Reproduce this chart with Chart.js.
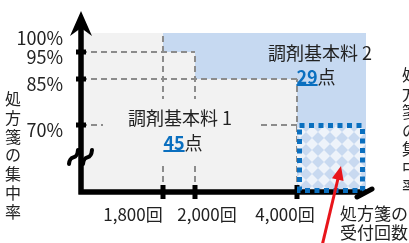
<!DOCTYPE html>
<html lang="ja">
<head>
<meta charset="utf-8">
<title>調剤基本料</title>
<script src="https://cdn.jsdelivr.net/npm/chart.js@4.4.1/dist/chart.umd.min.js"></script>
<style>
  html, body { margin: 0; padding: 0; background: #fff; }
  #wrap { width: 409px; height: 243px; position: relative; overflow: hidden; }
</style>
</head>
<body>
<div id="wrap"><canvas id="chart"></canvas></div>
<script>
// 受付回数(回)と集中率(%)のしきい値
const countThresholds = [1800, 2000, 4000];
const rateThresholds = [95, 85, 70];
const countLabels = ['1,800回', '2,000回', '4,000回'];
const rateTicks = [100, 95, 85, 70];
const countEnd = 5400;   // 図の右端
const rateTop = 100;
const feeNames = ['調剤基本料 1', '調剤基本料 2'];
const feePoints = [45, 29];
const xTitle = ['処方箋の', '受付回数'];
const yTitle = '処方箋の集中率';

const FONT = '"Noto Sans CJK JP", "Noto Sans", sans-serif';
const BLUE = '#0a6fbf';

// 模式図なので軸は区間ごとに伸縮させる
class SchematicScale extends Chart.LinearScale {
    static id = 'schematic';
    static defaults = {};
    decimalOf(value) {
        const k = this.options.knots;
        if (value <= k[0][0]) return k[0][1];
        for (let i = 1; i < k.length; i++) {
            if (value <= k[i][0]) {
                const [v0, d0] = k[i - 1], [v1, d1] = k[i];
                return d0 + (value - v0) / (v1 - v0) * (d1 - d0);
            }
        }
        return k[k.length - 1][1];
    }
    getPixelForValue(value) {
        return this.getPixelForDecimal(this.decimalOf(value));
    }
    getValueForPixel(pixel) {
        const d = this.getDecimalForPixel(pixel);
        const k = this.options.knots;
        for (let i = 1; i < k.length; i++) {
            if (d <= k[i][1]) {
                const [v0, d0] = k[i - 1], [v1, d1] = k[i];
                return v0 + (d - d0) / (d1 - d0) * (v1 - v0);
            }
        }
        return k[k.length - 1][0];
    }
}
Chart.register(SchematicScale);

// 市松模様 (新しく対象になる部分)
function makePattern() {
    const c = document.createElement('canvas');
    c.width = 12; c.height = 12;
    const g = c.getContext('2d');
    g.fillStyle = '#eef3fa';
    g.fillRect(0, 0, 12, 12);
    g.fillStyle = '#c8d9f0';
    g.beginPath();
    g.moveTo(6, 0); g.lineTo(12, 6); g.lineTo(6, 12); g.lineTo(0, 6);
    g.closePath();
    g.fill();
    return g.createPattern(c, 'repeat');
}

// 調剤基本料1の範囲 (階段状)
const grayPts = [{x: 0, y: rateTop}];
countThresholds.forEach((c, i) => {
    grayPts.push({x: c, y: i === 0 ? rateTop : rateThresholds[i - 1]});
    if (i < countThresholds.length - 1) grayPts.push({x: c, y: rateThresholds[i]});
});
const bluePts = [{x: countThresholds[0], y: rateTop}, {x: countEnd, y: rateTop}];
const last = countThresholds.length - 1;
const newPts = [{x: countThresholds[last], y: rateThresholds[last]}, {x: countEnd, y: rateThresholds[last]}];

const dashed = {type: 'line', borderColor: '#8c8c8c', borderWidth: 2, borderDash: [6, 4],
    pointRadius: 0, fill: false, order: 3};
const guideSets = [];
countThresholds.forEach((c, i) => {
    guideSets.push(Object.assign({data: [{x: c, y: 0}, {x: c, y: i === 0 ? rateTop : rateThresholds[i - 1]}]}, dashed));
});
rateThresholds.forEach((r, i) => {
    guideSets.push(Object.assign({data: [{x: 0, y: r}, {x: countThresholds[Math.min(i + 1, last)], y: r}]}, dashed));
});

function drawScore(ctx, cx, cy, pts) {
    const num = String(pts), unit = '点';
    ctx.font = 'bold 18px ' + FONT;
    const wn = ctx.measureText(num).width;
    ctx.font = '18px ' + FONT;
    const wu = ctx.measureText(unit).width;
    const left = cx - (wn + wu) / 2;
    ctx.textAlign = 'left';
    ctx.textBaseline = 'middle';
    ctx.font = 'bold 18px ' + FONT;
    ctx.fillStyle = BLUE;
    ctx.fillText(num, left, cy);
    ctx.fillRect(left, cy + 7, wn, 2);
    ctx.font = '18px ' + FONT;
    ctx.fillStyle = '#222';
    ctx.fillText(unit, left + wn, cy);
}

const overlay = {
    id: 'overlay',
    afterDatasetsDraw(chart) {
        const {ctx, chartArea, scales: {x, y}} = chart;
        const x0 = x.getPixelForValue(0), y0 = y.getPixelForValue(0);
        ctx.save();

        // 調剤基本料1 のラベル
        ctx.fillStyle = '#f2f2f2';
        ctx.fillRect(103, 99, 154, 63);
        ctx.fillStyle = '#222';
        ctx.font = '18px ' + FONT;
        ctx.textAlign = 'center';
        ctx.textBaseline = 'middle';
        ctx.fillText(feeNames[0], 180, 118);
        drawScore(ctx, 183, 143, feePoints[0]);
        ctx.fillStyle = '#222';
        ctx.font = '18px ' + FONT;
        ctx.textAlign = 'center';
        ctx.fillText(feeNames[1], 320, 53);
        drawScore(ctx, 316, 77, feePoints[1]);

        // 軸
        ctx.strokeStyle = '#000';
        ctx.fillStyle = '#000';
        ctx.lineWidth = 5.5;
        ctx.beginPath();
        ctx.moveTo(x0, y0 + 2.5);
        ctx.lineTo(x0, chartArea.top + 10);
        ctx.moveTo(x0 - 2.5, y0);
        ctx.lineTo(x.getPixelForValue(countEnd), y0);
        ctx.stroke();
        // 矢印 (上)
        ctx.beginPath();
        ctx.moveTo(x0, chartArea.top - 3);
        ctx.lineTo(x0 + 11, chartArea.top + 22);
        ctx.lineTo(x0, chartArea.top + 14);
        ctx.lineTo(x0 - 11, chartArea.top + 22);
        ctx.closePath();
        ctx.fill();
        // 目盛り
        rateThresholds.forEach(r => {
            const py = y.getPixelForValue(r);
            ctx.fillRect(x0 - 5, py - 2.5, 10, 5);
        });
        countThresholds.forEach(c => {
            const px = x.getPixelForValue(c);
            ctx.fillRect(px - 2.5, y0 - 7, 5, 14);
        });
        // 省略記号
        ctx.lineWidth = 4;
        ctx.lineCap = 'round';
        [x0 - 12, x0 + 2].forEach(bx => {
            ctx.beginPath();
            ctx.moveTo(bx, 164);
            ctx.bezierCurveTo(bx + 1, 153, bx + 8, 162, bx + 9, 150);
            ctx.stroke();
        });

        // 新しい範囲の点線枠
        const bx0 = x.getPixelForValue(countThresholds[last]) + 2.5;
        const bx1 = x.getPixelForValue(countEnd) - 3.5;
        const by0 = y.getPixelForValue(rateThresholds[last]) + 0.5;
        const by1 = y0 - 1.5;
        ctx.strokeStyle = BLUE;
        ctx.lineWidth = 5;
        ctx.lineCap = 'butt';
        ctx.setLineDash([5, 4.5]);
        ctx.strokeRect(bx0, by0, bx1 - bx0, by1 - by0);
        ctx.setLineDash([]);
        // 矢印 (右)
        ctx.strokeStyle = '#000';
        ctx.lineWidth = 5;
        ctx.lineCap = 'round';
        ctx.beginPath();
        ctx.moveTo(357, 197);
        ctx.lineTo(372, 189);
        ctx.stroke();

        // x 軸の目盛りラベル
        ctx.fillStyle = '#222';
        ctx.font = '17px ' + FONT;
        ctx.textBaseline = 'middle';
        ctx.textAlign = 'center';
        const shift = [-30, 12, -12];
        countThresholds.forEach((c, i) => {
            ctx.fillText(countLabels[i], x.getPixelForValue(c) + shift[i], 215);
        });
        ctx.textAlign = 'left';
        ctx.fillText(xTitle[0], 340, 214);
        ctx.fillText(xTitle[1], 340, 233);

        // 縦書きのタイトル
        ctx.font = '16px ' + FONT;
        ctx.textAlign = 'center';
        [...yTitle].forEach((ch, i) => ctx.fillText(ch, 13, 99 + i * 18.8));
        [...yTitle].forEach((ch, i) => ctx.fillText(ch, 410, 75 + i * 18.5));

        // 赤い矢印
        const tx = 341, ty = 166, sx = 322, sy = 246;
        const ang = Math.atan2(ty - sy, tx - sx);
        ctx.strokeStyle = '#e8151b';
        ctx.fillStyle = '#e8151b';
        ctx.lineWidth = 3;
        ctx.lineCap = 'butt';
        ctx.beginPath();
        ctx.moveTo(sx, sy);
        ctx.lineTo(tx - 10 * Math.cos(ang), ty - 10 * Math.sin(ang));
        ctx.stroke();
        ctx.beginPath();
        ctx.moveTo(tx, ty);
        ctx.lineTo(tx - 14 * Math.cos(ang) + 6 * Math.sin(ang), ty - 14 * Math.sin(ang) - 6 * Math.cos(ang));
        ctx.lineTo(tx - 14 * Math.cos(ang) - 6 * Math.sin(ang), ty - 14 * Math.sin(ang) + 6 * Math.cos(ang));
        ctx.closePath();
        ctx.fill();

        ctx.restore();
    }
};

const ctx = document.getElementById('chart').getContext('2d');

const chart = new Chart(ctx, {
    type: 'line',
    data: {
        datasets: [
            {data: bluePts, backgroundColor: '#c6d9f1', borderWidth: 0, pointRadius: 0, fill: 'origin', order: 5},
            {data: grayPts, backgroundColor: '#f2f2f2', borderWidth: 0, pointRadius: 0, fill: 'origin', order: 4},
            ...guideSets,
            {data: newPts, backgroundColor: makePattern(), borderWidth: 0, pointRadius: 0, fill: 'origin', order: 1}
        ]
    },
    options: {
        responsive: true,
        maintainAspectRatio: false,
        animation: false,
        events: [],
        layout: {padding: {top: 14, right: 41, left: 0, bottom: 0}},
        plugins: {legend: {display: false}, tooltip: {enabled: false}},
        scales: {
            x: {
                type: 'schematic',
                min: 0,
                max: 5500,
                knots: [[0, 0], [1800, 0.2857], [2000, 0.3972], [4000, 0.7526], [5400, 0.993], [5500, 1]],
                grid: {display: false, drawTicks: false},
                border: {display: false},
                ticks: {display: false},
                afterBuildTicks: s => { s.ticks = countThresholds.map(v => ({value: v})); },
                afterFit: s => { s.height = 51; s.paddingLeft = 0; s.paddingRight = 0; }
            },
            y: {
                type: 'schematic',
                min: 0,
                max: 110,
                knots: [[0, 0], [70, 0.3764], [85, 0.6348], [95, 0.7865], [100, 0.8933], [110, 1]],
                grid: {display: false, drawTicks: false},
                border: {display: false},
                ticks: {
                    padding: 18,
                    labelOffset: 5,
                    color: '#222',
                    font: {family: FONT, size: 18},
                    callback: v => v + '%'
                },
                afterBuildTicks: s => { s.ticks = rateTicks.map(v => ({value: v})); },
                afterFit: s => { s.width = 81; s.paddingTop = 0; s.paddingBottom = 0; }
            }
        }
    },
    plugins: [overlay]
});
</script>
</body>
</html>
